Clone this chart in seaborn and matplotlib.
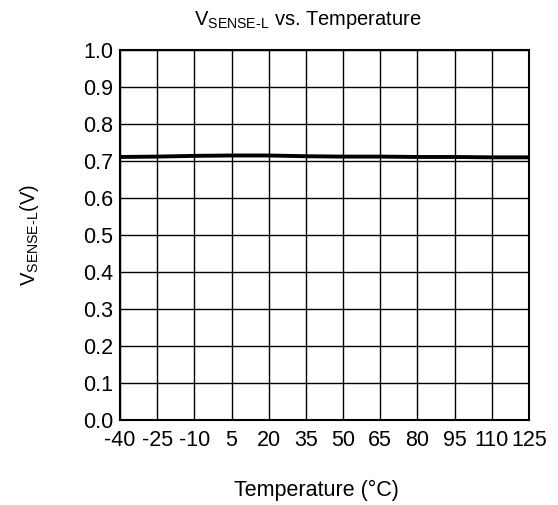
import matplotlib
matplotlib.use("Agg")
import matplotlib.pyplot as plt
import seaborn as sns
import pandas as pd

temperature = [-40, -25, -10, 5, 20, 35, 50, 65, 80, 95, 110, 125]
vsense_l = [0.711, 0.712, 0.714, 0.715, 0.715, 0.713, 0.712, 0.712, 0.711, 0.711, 0.710, 0.710]
x_ticks = [-40, -25, -10, 5, 20, 35, 50, 65, 80, 95, 110, 125]
y_ticks = [0.0, 0.1, 0.2, 0.3, 0.4, 0.5, 0.6, 0.7, 0.8, 0.9, 1.0]

sns.set_theme(style="white")
plt.rcParams['font.family'] = ['Liberation Sans', 'DejaVu Sans']
plt.rcParams['axes.unicode_minus'] = False
plt.rcParams['mathtext.fontset'] = 'custom'
plt.rcParams['mathtext.rm'] = 'Liberation Sans'

df = pd.DataFrame({"T": temperature, "V": vsense_l})

fig = plt.figure(figsize=(5.58, 5.05), dpi=100)
ax = fig.add_axes([0.215, 0.168, 0.733, 0.733])
sns.lineplot(data=df, x="T", y="V", ax=ax, color="black", linewidth=2.8)

ax.set_xlim(-40, 125)
ax.set_ylim(0, 1.0)
ax.set_xticks(x_ticks)
ax.set_xticklabels([str(t) for t in x_ticks])
ax.set_yticks(y_ticks)
ax.set_yticklabels([f"{v:.1f}" for v in y_ticks])
ax.grid(True, color="black", linewidth=1.0)
ax.set_axisbelow(True)
for s in ax.spines.values():
    s.set_color("black")
    s.set_linewidth(1.5)
ax.tick_params(axis="x", length=0, labelsize=15.5, colors="black", pad=7)
ax.tick_params(axis="y", length=0, labelsize=15.5, colors="black", pad=5)
for lbl in ax.get_yticklabels():
    lbl.set_verticalalignment("center_baseline")

ax.set_title(r"V$_{\mathregular{SENSE\text{-}L}}$ vs. Temperature", fontsize=14.5, pad=18, color="black", x=0.46)
ax.set_xlabel("Temperature (°C)", fontsize=15.5, labelpad=21, color="black", x=0.48)
ax.set_ylabel(r"V$_{\mathregular{SENSE\text{-}L}}$(V)", fontsize=14.5, labelpad=30, color="black")

fig.savefig("out.png", dpi=100, facecolor="white")
